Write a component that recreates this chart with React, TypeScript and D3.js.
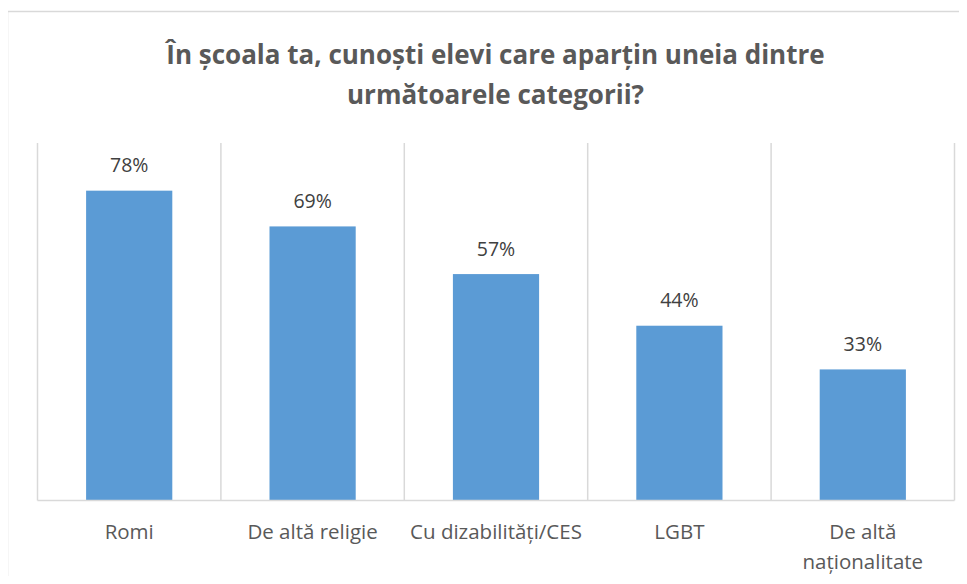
import React from "react";
import * as d3 from "d3";

const categories: string[][] = [
  ["Romi"],
  ["De altă religie"],
  ["Cu dizabilități/CES"],
  ["LGBT"],
  ["De altă", "naționalitate"],
];
const values: number[] = [0.78, 0.69, 0.57, 0.44, 0.33];
const titleLines: string[] = [
  "În școala ta, cunoști elevi care aparțin uneia dintre",
  "următoarele categorii?",
];

const W = 967;
const H = 584;
const plot = { left: 37.5, right: 954.5, top: 143, bottom: 500.5 };
const FONT = "'Open Sans', sans-serif";

export default function App() {
  const keys = categories.map((_, i) => String(i));
  const x = d3
    .scaleBand<string>()
    .domain(keys)
    .range([plot.left, plot.right])
    .paddingInner(0.53)
    .paddingOuter(0.265);
  const xOuter = d3.scaleBand<string>().domain(keys).range([plot.left, plot.right]);
  const y = d3.scaleLinear().domain([0, 0.9]).range([plot.bottom, plot.top]);
  const fmt = d3.format(".0%");

  const gridXs = [...keys.map((k) => xOuter(k) as number), plot.right];

  return (
    <div style={{ margin: -8 }}>
      <svg width={W} height={H} style={{ display: "block" }}>
        <rect x={0} y={0} width={W} height={H} fill="#fff" />
        <rect
          x={7.5}
          y={11.5}
          width={W + 20}
          height={H + 20}
          fill="#fff"
          stroke="#D9D9D9"
          strokeWidth={1.5}
        />
        {titleLines.map((t, i) => (
          <text
            key={i}
            x={495.5}
            y={64 + i * 40}
            textAnchor="middle"
            fontFamily={FONT}
            fontWeight={700}
            fontSize={26}
            fill="#595959"
          >
            {t}
          </text>
        ))}
        {gridXs.map((gx, i) => (
          <line
            key={i}
            x1={gx}
            x2={gx}
            y1={plot.top}
            y2={plot.bottom}
            stroke="#D9D9D9"
            strokeWidth={1.5}
          />
        ))}
        {values.map((v, i) => (
          <rect
            key={i}
            x={x(keys[i])}
            y={y(v)}
            width={x.bandwidth()}
            height={plot.bottom - y(v)}
            fill="#5B9BD5"
          />
        ))}
        <line
          x1={plot.left}
          x2={plot.right}
          y1={plot.bottom}
          y2={plot.bottom}
          stroke="#D9D9D9"
          strokeWidth={1.5}
        />
        {values.map((v, i) => (
          <text
            key={i}
            x={(x(keys[i]) as number) + x.bandwidth() / 2}
            y={y(v) - 18.5}
            textAnchor="middle"
            fontFamily={FONT}
            fontSize={19.5}
            fill="#404040"
          >
            {fmt(v)}
          </text>
        ))}
        {categories.map((lines, i) =>
          lines.map((l, j) => (
            <text
              key={i + "-" + j}
              x={(xOuter(keys[i]) as number) + xOuter.bandwidth() / 2}
              y={539 + j * 30}
              textAnchor="middle"
              fontFamily={FONT}
              fontSize={20.5}
              fill="#595959"
            >
              {l}
            </text>
          ))
        )}
      </svg>
    </div>
  );
}
